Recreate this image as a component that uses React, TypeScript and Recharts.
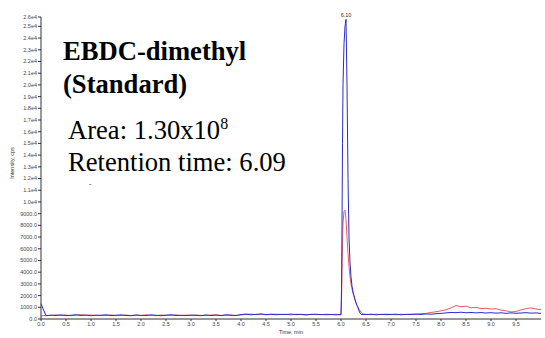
import React from 'react';
import { LineChart, Line, XAxis, YAxis, ReferenceDot } from 'recharts';

const times: number[] = [
  0.0, 0.1, 0.2, 0.3, 0.4, 0.5, 0.6, 0.7, 0.8, 0.9,
  1.0, 1.1, 1.2, 1.3, 1.4, 1.5, 1.6, 1.7, 1.8, 1.9,
  2.0, 2.1, 2.2, 2.3, 2.4, 2.5, 2.6, 2.7, 2.8, 2.9,
  3.0, 3.1, 3.2, 3.3, 3.4, 3.5, 3.6, 3.7, 3.8, 3.9,
  4.0, 4.1, 4.2, 4.3, 4.4, 4.5, 4.6, 4.7, 4.8, 4.9,
  5.0, 5.1, 5.2, 5.3, 5.4, 5.5, 5.6, 5.7, 5.8, 5.9,
  6.0, 6.01, 6.02, 6.03, 6.04, 6.06, 6.08, 6.1, 6.12, 6.14,
  6.16, 6.18, 6.2, 6.22, 6.24, 6.26, 6.28, 6.3, 6.32, 6.34,
  6.36, 6.38, 6.4, 6.42, 6.44,
  6.5, 6.6, 6.7, 6.8, 6.9, 7.0, 7.1, 7.2, 7.3, 7.4, 7.5,
  7.6, 7.7, 7.8, 7.9, 8.0, 8.1, 8.2, 8.3, 8.4, 8.5,
  8.6, 8.7, 8.8, 8.9, 9.0, 9.1, 9.2, 9.3, 9.4, 9.5,
  9.6, 9.7, 9.8, 9.9, 10.0,
];

const blueCps: number[] = [
  1300, 280, 330, 300, 350, 290, 320, 360, 300, 340,
  280, 330, 310, 360, 290, 320, 350, 300, 280, 340,
  310, 290, 350, 320, 280, 330, 360, 300, 320, 290,
  340, 310, 280, 350, 300, 330, 290, 360, 320, 300,
  380, 420, 360, 400, 430, 380, 410, 360, 400, 380,
  420, 370, 400, 360, 390, 410, 370, 400, 380, 360,
  380, 2500, 8000, 15000, 20000, 23500, 25000, 25600, 20000, 12000,
  7000, 4800, 3600, 2800, 2300, 2000, 1700, 1400, 1150, 950,
  700, 500, 420, 380, 400,
  380, 410, 360, 400, 370, 390, 410, 360, 400, 380, 420,
  390, 430, 410, 450, 480, 520, 560, 540, 580, 530,
  560, 520, 550, 510, 540, 500, 530, 480, 520, 490,
  510, 540, 500, 520, 480,
];

const redCps: number[] = [
  250, 320, 290, 350, 300, 340, 280, 330, 370, 310,
  340, 290, 320, 300, 350, 280, 310, 340, 300, 330,
  290, 360, 310, 280, 340, 300, 320, 350, 290, 330,
  300, 340, 310, 290, 330, 360, 300, 320, 340, 290,
  350, 390, 420, 370, 400, 360, 390, 420, 380, 400,
  360, 410, 380, 350, 400, 370, 390, 360, 380, 400,
  360, 1500, 4000, 6500, 8200, 9200, 9300, 8500, 7000, 5600,
  4500, 3600, 3000, 2600, 2200, 1900, 1600, 1350, 1150, 1000,
  850, 700, 580, 480, 420,
  400, 370, 410, 380, 420, 390, 360, 410, 380, 420, 400,
  450, 480, 560, 620, 700, 780, 950, 1150, 1050, 1100,
  950, 1000, 880, 920, 850, 880, 760, 700, 600, 650,
  780, 880, 950, 850, 800,
];

const xTicks: number[] = [0, 0.5, 1, 1.5, 2, 2.5, 3, 3.5, 4, 4.5, 5, 5.5, 6, 6.5, 7, 7.5, 8, 8.5, 9, 9.5];
const yMax = 25800;
const yTicks: number[] = [
  0, 1000, 2000, 3000, 4000, 5000, 6000, 7000, 8000, 9000,
  10000, 11000, 12000, 13000, 14000, 15000, 16000, 17000, 18000, 19000,
  20000, 21000, 22000, 23000, 24000, 25000, 25800,
];

const peakTime = 6.1;
const peakValue = 25600;
const peakLabel = '6.10';

const data = times.map((t, i) => ({ t, blue: blueCps[i], red: redCps[i] }));

const fmtY = (v: number) => (v < 10000 ? v.toFixed(1) : (v / 10000).toFixed(1) + 'e4');
const fmtX = (v: number) => v.toFixed(1);

const SANS = '"Liberation Sans", Arial, sans-serif';
const SERIF = '"Liberation Serif", "Times New Roman", serif';

const tickStyle = { fontSize: 5.5, fill: '#444', fontFamily: SANS };
const bigBold = { fontFamily: SERIF, fontSize: 26.6, fontWeight: 700 as const, fill: '#000' };
const bigReg = { fontFamily: SERIF, fontSize: 26.6, fontWeight: 400 as const, fill: '#000' };

export default function App() {
  return (
    <div style={{ position: 'absolute', left: 0, top: 0, width: 545, height: 338, background: '#fff' }}>
      <LineChart width={545} height={338} data={data} margin={{ top: 17, right: 4, left: 0, bottom: 0 }}>
        <XAxis
          dataKey="t"
          type="number"
          domain={[0, 10]}
          ticks={xTicks}
          tickFormatter={fmtX}
          height={19}
          tick={tickStyle}
          tickSize={2}
          tickMargin={1}
          stroke="#333"
          interval={0}
        />
        <YAxis
          type="number"
          domain={[0, yMax]}
          ticks={yTicks}
          tickFormatter={fmtY}
          width={41}
          tick={tickStyle}
          tickSize={3}
          tickMargin={1}
          stroke="#333"
          interval={0}
        />
        <Line type="linear" dataKey="red" stroke="#ee5a62" strokeWidth={1} dot={false} isAnimationActive={false} />
        <Line type="linear" dataKey="blue" stroke="#2b2bd0" strokeWidth={1} dot={false} isAnimationActive={false} />
        <ReferenceDot
          x={peakTime}
          y={peakValue}
          r={0}
          stroke="none"
          fill="none"
          label={{ value: peakLabel, position: 'top', offset: 2, fontSize: 5.5, fill: '#333', fontFamily: SANS }}
        />
      </LineChart>
      <svg width={545} height={338} style={{ position: 'absolute', left: 0, top: 0, pointerEvents: 'none' }}>
        <text
          transform="rotate(-90, 12, 163)"
          x={12}
          y={163}
          textAnchor="middle"
          dominantBaseline="central"
          style={{ fontFamily: SANS, fontSize: 5.5, fill: '#333' }}
        >
          Intensity, cps
        </text>
        <text x={291} y={334} textAnchor="middle" style={{ fontFamily: SANS, fontSize: 5.5, fill: '#333' }}>
          Time, min
        </text>
        <text x={63} y={60} style={bigBold}>EBDC-dimethyl</text>
        <text x={63} y={93} style={bigBold}>(Standard)</text>
        <text x={68} y={139} style={bigReg}>
          Area: 1.30x10<tspan style={{ fontSize: 16 }} dy={-10}>8</tspan>
        </text>
        <text x={68} y={171} style={bigReg}>Retention time: 6.09</text>
        <text x={89} y={186} style={{ fontFamily: SERIF, fontSize: 7, fill: '#000' }}>-</text>
      </svg>
    </div>
  );
}
